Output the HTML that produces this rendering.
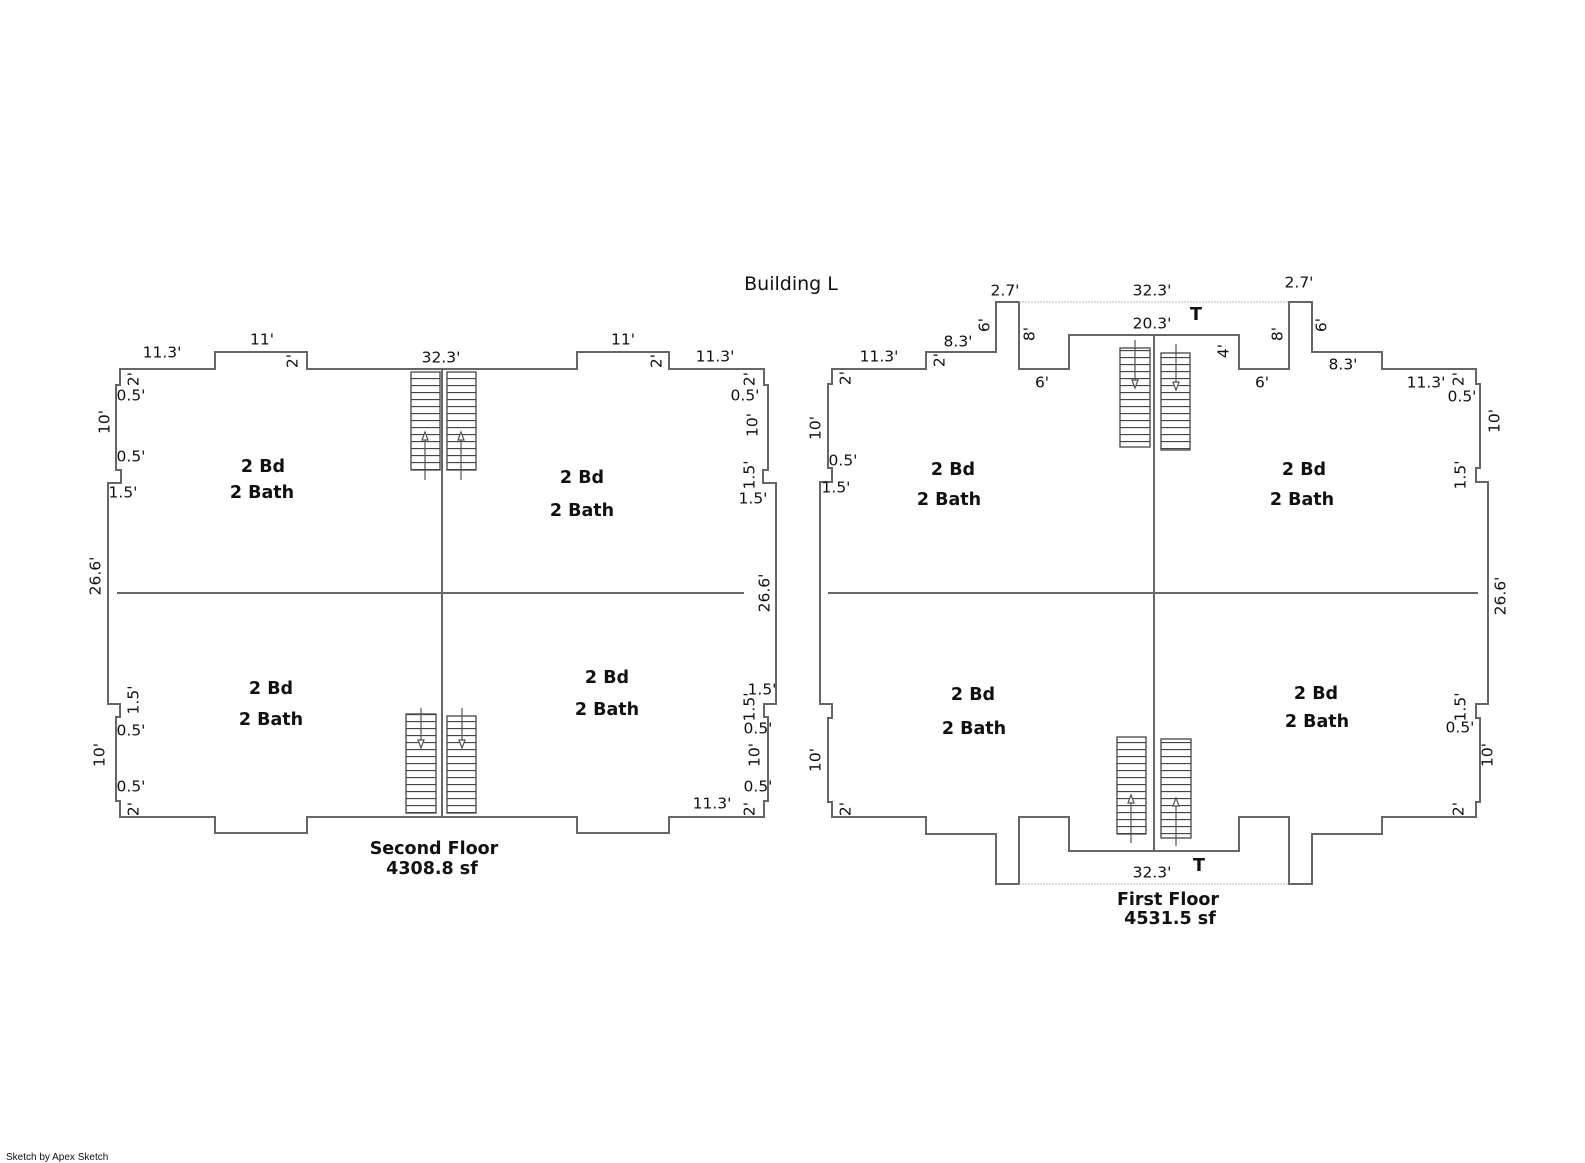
<!DOCTYPE html>
<html><head><meta charset="utf-8"><style>
html,body{margin:0;padding:0;background:#fff;}
svg{display:block;}
text{font-family:"DejaVu Sans","Liberation Sans",sans-serif;fill:#111;}
.d{font-size:15.5px;}
.b{font-size:17.5px;font-weight:bold;}
</style></head><body>
<svg width="1585" height="1163" viewBox="0 0 1585 1163" xmlns="http://www.w3.org/2000/svg">
<g fill="none" stroke="#666" stroke-width="2">
<path d="M120,369 H215 V352 H307 V369 H577 V352 H669 V369 H764 V385 H768 V470 H763 V483 H776 V704 H764 V717 H768 V801 H764 V817 H669 V833 H577 V817 H307 V833 H215 V817 H120 V801 H116 V717 H120 V704 H108 V483 H121 V470 H116 V385 H120 Z"/>
<line x1="442" y1="369" x2="442" y2="817"/>
<line x1="117" y1="593" x2="744" y2="593"/>
<path d="M832,369 H926 V352 H996 V302 H1019 V369 H1069 V335 H1239 V369 H1289 V302 H1312 V352 H1382 V369 H1476 V384 H1480 V468 H1476 V482 H1488 V704 H1476 V718 H1480 V802 H1476 V817 H1382 V834 H1312 V884 H1289 V817 H1239 V851 H1069 V817 H1019 V884 H996 V834 H926 V817 H832 V802 H828 V718 H832 V704 H820 V482 H832 V468 H828 V384 H832 Z"/>
<line x1="1154" y1="335" x2="1154" y2="851"/>
<line x1="828" y1="593" x2="1478" y2="593"/>
</g>
<g stroke="#bbb" stroke-width="1" stroke-dasharray="2,1">
<line x1="1019" y1="302" x2="1289" y2="302"/>
<line x1="1019" y1="884" x2="1289" y2="884"/>
</g>
<defs>
<pattern id="tr" width="10" height="7" patternUnits="userSpaceOnUse"><line x1="0" y1="0.5" x2="10" y2="0.5" stroke="#444" stroke-width="1.3"/></pattern>
</defs>
<g stroke="#444" stroke-width="1.3" fill="url(#tr)">
<rect x="411" y="372" width="29" height="98"/>
<rect x="447" y="372" width="29" height="98"/>
<rect x="406" y="714" width="30" height="99"/>
<rect x="447" y="716" width="29" height="97"/>
<rect x="1120" y="348" width="30" height="99"/>
<rect x="1161" y="353" width="29" height="97"/>
<rect x="1117" y="737" width="29" height="97"/>
<rect x="1161" y="739" width="30" height="99"/>
</g>
<g stroke="#555" stroke-width="1.2" fill="#fff">
<line x1="425" y1="480" x2="425" y2="432"/><path d="M422,440 L425,432 L428,440 Z"/>
<line x1="461" y1="480" x2="461" y2="432"/><path d="M458,440 L461,432 L464,440 Z"/>
<line x1="421" y1="708" x2="421" y2="748"/><path d="M418,740 L421,748 L424,740 Z"/>
<line x1="462" y1="708" x2="462" y2="748"/><path d="M459,740 L462,748 L465,740 Z"/>
<line x1="1135" y1="340" x2="1135" y2="388"/><path d="M1132,380 L1135,388 L1138,380 Z"/>
<line x1="1176" y1="344" x2="1176" y2="390"/><path d="M1173,382 L1176,390 L1179,382 Z"/>
<line x1="1131" y1="843" x2="1131" y2="795"/><path d="M1128,803 L1131,795 L1134,803 Z"/>
<line x1="1176" y1="846" x2="1176" y2="798"/><path d="M1173,806 L1176,798 L1179,806 Z"/>
</g>
<text x="791" y="290" font-size="19" text-anchor="middle">Building L</text>
<g class="d" text-anchor="middle" dominant-baseline="middle">
<text x="162" y="353">11.3'</text>
<text x="262" y="340">11'</text>
<text x="441" y="358">32.3'</text>
<text x="623" y="340">11'</text>
<text x="715" y="357">11.3'</text>
<text x="131" y="396">0.5'</text>
<text x="131" y="457">0.5'</text>
<text x="123" y="493">1.5'</text>
<text x="131" y="731">0.5'</text>
<text x="131" y="787">0.5'</text>
<text x="745" y="396">0.5'</text>
<text x="753" y="499">1.5'</text>
<text x="762" y="690">1.5'</text>
<text x="758" y="729">0.5'</text>
<text x="758" y="787">0.5'</text>
<text x="712" y="804">11.3'</text>
<text transform="translate(293,361) rotate(-90)">2'</text>
<text transform="translate(657,361) rotate(-90)">2'</text>
<text transform="translate(134,379) rotate(-90)">2'</text>
<text transform="translate(105,422) rotate(-90)">10'</text>
<text transform="translate(96,576) rotate(-90)">26.6'</text>
<text transform="translate(134,700) rotate(-90)">1.5'</text>
<text transform="translate(100,755) rotate(-90)">10'</text>
<text transform="translate(134,809) rotate(-90)">2'</text>
<text transform="translate(750,379) rotate(-90)">2'</text>
<text transform="translate(753,425) rotate(-90)">10'</text>
<text transform="translate(750,475) rotate(-90)">1.5'</text>
<text transform="translate(765,593) rotate(-90)">26.6'</text>
<text transform="translate(750,707) rotate(-90)">1.5'</text>
<text transform="translate(755,755) rotate(-90)">10'</text>
<text transform="translate(750,809) rotate(-90)">2'</text>
<text x="1005" y="291">2.7'</text>
<text x="1152" y="291">32.3'</text>
<text x="1299" y="283">2.7'</text>
<text x="1152" y="324">20.3'</text>
<text x="958" y="342">8.3'</text>
<text x="879" y="357">11.3'</text>
<text x="1042" y="383">6'</text>
<text x="1262" y="383">6'</text>
<text x="1343" y="365">8.3'</text>
<text x="1426" y="383">11.3'</text>
<text x="1462" y="397">0.5'</text>
<text x="843" y="461">0.5'</text>
<text x="836" y="488">1.5'</text>
<text x="1460" y="728">0.5'</text>
<text x="1152" y="873">32.3'</text>
<text transform="translate(985,325) rotate(-90)">6'</text>
<text transform="translate(1030,334) rotate(-90)">8'</text>
<text transform="translate(1278,334) rotate(-90)">8'</text>
<text transform="translate(1322,325) rotate(-90)">6'</text>
<text transform="translate(1224,351) rotate(-90)">4'</text>
<text transform="translate(940,360) rotate(-90)">2'</text>
<text transform="translate(1459,379) rotate(-90)">2'</text>
<text transform="translate(846,378) rotate(-90)">2'</text>
<text transform="translate(816,428) rotate(-90)">10'</text>
<text transform="translate(1495,421) rotate(-90)">10'</text>
<text transform="translate(1461,475) rotate(-90)">1.5'</text>
<text transform="translate(1501,596) rotate(-90)">26.6'</text>
<text transform="translate(1461,707) rotate(-90)">1.5'</text>
<text transform="translate(1488,755) rotate(-90)">10'</text>
<text transform="translate(816,760) rotate(-90)">10'</text>
<text transform="translate(846,809) rotate(-90)">2'</text>
<text transform="translate(1459,809) rotate(-90)">2'</text>
</g>
<g class="b" text-anchor="middle" dominant-baseline="middle">
<text x="263" y="467">2 Bd</text><text x="262" y="493">2 Bath</text>
<text x="582" y="478">2 Bd</text><text x="582" y="511">2 Bath</text>
<text x="271" y="689">2 Bd</text><text x="271" y="720">2 Bath</text>
<text x="607" y="678">2 Bd</text><text x="607" y="710">2 Bath</text>
<text x="434" y="849">Second Floor</text><text x="432" y="869">4308.8 sf</text>
<text x="953" y="470">2 Bd</text><text x="949" y="500">2 Bath</text>
<text x="1304" y="470">2 Bd</text><text x="1302" y="500">2 Bath</text>
<text x="973" y="695">2 Bd</text><text x="974" y="729">2 Bath</text>
<text x="1316" y="694">2 Bd</text><text x="1317" y="722">2 Bath</text>
<text x="1196" y="315">T</text><text x="1199" y="866">T</text>
<text x="1168" y="900">First Floor</text><text x="1170" y="919">4531.5 sf</text>
</g>
<text x="6" y="1160" font-size="10" style="font-family:'Liberation Sans',sans-serif">Sketch by Apex Sketch</text>
</svg>
</body></html>
